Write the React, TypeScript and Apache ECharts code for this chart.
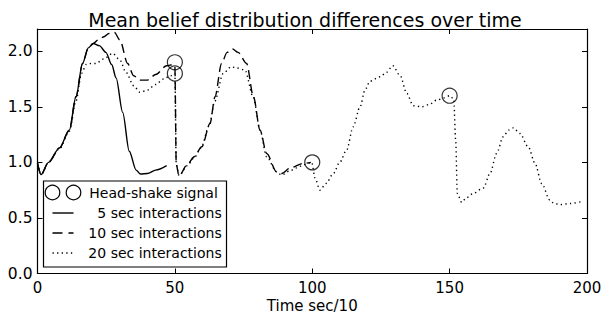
import React, { useEffect, useRef } from 'react';
import * as echarts from 'echarts';

const TITLE = 'Mean belief distribution differences over time';
const X_NAME = 'Time sec/10';
const LEGEND_LABELS = ['Head-shake signal', '5 sec interactions', '10 sec interactions', '20 sec interactions'];

const X_TICKS = [0, 50, 100, 150, 200];
const Y_TICKS = [0, 0.5, 1.0, 1.5, 2.0];
const Y_MAX = 2.2;

// 5 sec interactions (solid)
const sec5X = [0, 1.3, 4, 8, 11.6, 14, 16.4, 18.5, 20.3, 22.5, 24.9, 27, 28.6, 31, 33.4, 35.9, 37.5, 40, 43, 47];
const sec5Y = [0.99, 0.89, 1.0, 1.13, 1.29, 1.59, 1.89, 2.03, 2.07, 2.05, 1.99, 1.88, 1.76, 1.45, 1.1, 0.93, 0.895, 0.9, 0.93, 0.97];

// 10 sec interactions (dashed)
const sec10X = [0, 1.3, 4, 8, 11.6, 14, 16.4, 18.5, 20.3, 22, 24.2, 26, 28, 30, 32.8, 35, 37.3, 40, 43, 47, 49.5, 50, 50.5, 51.5, 54.8, 57, 59.8, 62.8, 64.6, 67, 69, 71, 73, 76.1, 78.6, 81, 83.4, 87, 88.9, 92, 96.7, 99.5];
const sec10Y = [0.99, 0.89, 1.0, 1.13, 1.29, 1.59, 1.89, 2.03, 2.07, 2.1, 2.13, 2.16, 2.17, 2.1, 1.89, 1.78, 1.74, 1.74, 1.79, 1.87, 1.88, 1.86, 0.98, 0.88, 0.99, 1.05, 1.14, 1.35, 1.59, 1.89, 1.99, 2.02, 1.99, 1.89, 1.59, 1.29, 1.08, 0.915, 0.9, 0.95, 0.99, 1.0];

// 20 sec interactions (dotted)
const sec20X = [0, 1.3, 4, 8, 11.6, 14, 16, 17.7, 19.5, 21.3, 24, 27.4, 30, 32.2, 35, 37.3, 40, 43, 45.8, 48.5, 50, 50.5, 51.5, 54.5, 57, 59.5, 62.5, 64.5, 67.6, 70.5, 72.5, 75.5, 78.5, 81, 83.4, 87, 88.9, 91.5, 94.3, 97, 99.8, 101, 102.8, 105, 107.7, 110, 112.5, 114.9, 117.4, 119.2, 121, 124.7, 127, 129.3, 132, 134.4, 136.8, 139.8, 142.5, 145.3, 148, 150, 151.5, 152.2, 152.8, 154.4, 156, 158.6, 162.3, 164.7, 167.1, 169.5, 171.5, 173.2, 175.6, 178.6, 181.1, 183.5, 186.5, 188, 190.2, 194, 198.5];
const sec20Y = [0.99, 0.89, 1.0, 1.12, 1.28, 1.55, 1.8, 1.88, 1.89, 1.89, 1.93, 1.98, 1.92, 1.81, 1.69, 1.63, 1.65, 1.7, 1.75, 1.78, 1.8, 0.98, 0.88, 0.97, 1.04, 1.13, 1.33, 1.55, 1.8, 1.86, 1.85, 1.83, 1.59, 1.29, 1.05, 0.915, 0.886, 0.92, 0.95, 0.98, 1.0, 0.86, 0.75, 0.81, 0.9, 1.0, 1.11, 1.32, 1.5, 1.65, 1.73, 1.77, 1.81, 1.87, 1.78, 1.62, 1.51, 1.5, 1.52, 1.56, 1.58, 1.6, 1.57, 1.2, 0.72, 0.64, 0.68, 0.72, 0.77, 0.9, 1.08, 1.23, 1.29, 1.31, 1.26, 1.14, 0.99, 0.81, 0.66, 0.63, 0.62, 0.63, 0.65];

// Head-shake signal markers
const headShakeX = [50, 50, 100, 150];
const headShakeY = [1.9, 1.8, 1.0, 1.6];

const FONT = 'DejaVu Sans';

const pairs = (xs: number[], ys: number[]) => xs.map((x, i) => [x, ys[i]]);

export default function App() {
  const ref = useRef<HTMLDivElement>(null);
  useEffect(() => {
    if (!ref.current) return;
    const chart = echarts.init(ref.current, undefined, { renderer: 'svg' });
    const dash = [9, 5];
    const dot = [1.3, 3.3];
    const yFmt = (v: number) => (Y_TICKS.some((t) => Math.abs(t - v) < 1e-6) ? v.toFixed(1) : '');
    const axisCommon = {
      type: 'value',
      axisLine: { show: true, onZero: false, lineStyle: { color: '#000', width: 1.2 } },
      axisTick: { show: true, inside: true, length: 5, lineStyle: { color: '#000', width: 1 } },
      splitLine: { show: false },
    };
    const lineSeries = (name: string, data: number[][], type: any, z: number) => ({
      name,
      type: 'line',
      data,
      showSymbol: false,
      smooth: 0.3,
      smoothMonotone: 'x',
      silent: true,
      z,
      lineStyle: { color: '#000', width: 1.4, type, cap: 'butt' },
    });
    const lx1 = 52.5, lx2 = 73.5;
    const rows = [192.5, 213, 233, 253];
    chart.setOption({
      animation: false,
      backgroundColor: '#fff',
      title: {
        text: TITLE,
        left: 300,
        top: 5,
        textAlign: 'center',
        textStyle: { fontFamily: FONT, fontSize: 19, fontWeight: 'normal', color: '#000' },
      },
      grid: { left: 37.5, right: 16, top: 29, bottom: 41.5, outerBoundsMode: 'none' },
      xAxis: [
        {
          ...axisCommon,
          position: 'bottom',
          min: X_TICKS[0],
          max: X_TICKS[X_TICKS.length - 1],
          interval: X_TICKS[1] - X_TICKS[0],
          name: X_NAME,
          nameLocation: 'middle',
          nameGap: 24.5,
          nameMoveOverlap: false,
          nameTextStyle: { fontFamily: FONT, fontSize: 15, color: '#000', lineHeight: 15 },
          axisLabel: { fontFamily: FONT, fontSize: 15, color: '#000', margin: 6.5, lineHeight: 15 },
        },
        {
          ...axisCommon,
          position: 'top',
          min: X_TICKS[0],
          max: X_TICKS[X_TICKS.length - 1],
          interval: X_TICKS[1] - X_TICKS[0],
          axisLabel: { show: false },
        },
      ],
      yAxis: [
        {
          ...axisCommon,
          position: 'left',
          min: 0,
          max: Y_MAX,
          interval: 0.5,
          axisLabel: { fontFamily: FONT, fontSize: 15.5, color: '#000', margin: 5, formatter: yFmt },
        },
        {
          ...axisCommon,
          position: 'right',
          min: 0,
          max: Y_MAX,
          interval: 0.5,
          axisLabel: { show: false },
        },
      ],
      series: [
        lineSeries(LEGEND_LABELS[3], pairs(sec20X, sec20Y), dot, 2),
        lineSeries(LEGEND_LABELS[2], pairs(sec10X, sec10Y), dash, 3),
        lineSeries(LEGEND_LABELS[1], pairs(sec5X, sec5Y), 'solid', 4),
        {
          name: LEGEND_LABELS[0],
          type: 'scatter',
          data: pairs(headShakeX, headShakeY),
          symbol: 'circle',
          symbolSize: 15,
          silent: true,
          z: 5,
          itemStyle: { color: 'rgba(0,0,0,0)', borderColor: '#000', borderWidth: 1.2 },
        },
      ],
      graphic: [
        {
          type: 'group',
          z: 100,
          children: [
            {
              type: 'rect',
              shape: { x: 43.5, y: 181, width: 183, height: 86 },
              style: { fill: '#fff', stroke: '#000', lineWidth: 1.2 },
            },
            { type: 'circle', shape: { cx: lx1, cy: rows[0], r: 7.3 }, style: { fill: 'none', stroke: '#000', lineWidth: 1.2 } },
            { type: 'circle', shape: { cx: lx2, cy: rows[0], r: 7.3 }, style: { fill: 'none', stroke: '#000', lineWidth: 1.2 } },
            { type: 'line', shape: { x1: lx1, y1: rows[1], x2: lx2, y2: rows[1] }, style: { stroke: '#000', lineWidth: 1.4 } },
            { type: 'line', shape: { x1: lx1, y1: rows[2], x2: lx2, y2: rows[2] }, style: { stroke: '#000', lineWidth: 1.4, lineDash: [10, 6] } },
            { type: 'line', shape: { x1: lx1, y1: rows[3], x2: lx2, y2: rows[3] }, style: { stroke: '#000', lineWidth: 1.4, lineDash: dot } },
            {
              type: 'text', x: 89.3, y: rows[0],
              style: { text: LEGEND_LABELS[0], fontFamily: FONT, fontSize: 14, fill: '#000', align: 'left', verticalAlign: 'middle' },
            },
            ...[1, 2, 3].map((i) => ({
              type: 'text', x: 221.7, y: rows[i],
              style: { text: LEGEND_LABELS[i], fontFamily: FONT, fontSize: 14, fill: '#000', align: 'right', verticalAlign: 'middle' },
            })),
          ],
        },
      ],
    });
    return () => chart.dispose();
  }, []);
  return <div ref={ref} style={{ position: 'absolute', left: 0, top: 0, width: 603, height: 315 }} />;
}
